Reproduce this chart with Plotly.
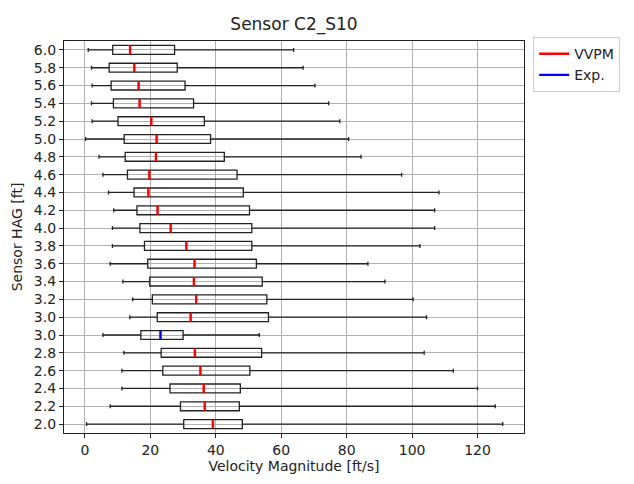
import plotly.graph_objects as go

# Rows from bottom to top
tick_labels = ["2.0", "2.2", "2.4", "2.6", "2.8", "3.0", "3.0", "3.2", "3.4", "3.6", "3.8",
               "4.0", "4.2", "4.4", "4.6", "4.8", "5.0", "5.2", "5.4", "5.6", "5.8", "6.0"]
series = ["VVPM"] * 5 + ["Exp."] + ["VVPM"] * 16

lower = [0.5, 7.7, 11.3, 11.3, 11.9, 5.5, 13.7, 14.6, 11.6, 7.7, 8.4,
         8.4, 8.8, 7.2, 5.5, 4.3, 0.2, 2.2, 2.0, 2.2, 2.0, 1.0]
q1 = [30.2, 29.2, 26.0, 23.8, 23.3, 17.1, 22.1, 20.6, 19.8, 19.2, 18.2,
      16.8, 15.9, 15.0, 13.0, 12.3, 12.0, 10.1, 8.7, 8.0, 7.4, 8.5]
median = [39.1, 36.6, 36.3, 35.3, 33.6, 23.1, 32.3, 34.0, 33.3, 33.5, 31.0,
          26.2, 22.2, 19.4, 19.7, 21.7, 21.9, 20.3, 16.7, 16.4, 15.1, 13.8]
q3 = [48.1, 47.2, 47.5, 50.4, 54.0, 30.0, 56.1, 55.6, 54.2, 52.4, 51.0,
      51.0, 50.3, 48.4, 46.5, 42.6, 38.4, 36.5, 33.2, 30.6, 28.2, 27.4]
upper = [127.7, 125.4, 120.0, 112.6, 103.7, 53.3, 104.4, 100.3, 91.7, 86.5, 102.4,
         106.9, 106.9, 108.2, 96.8, 84.4, 80.6, 77.9, 74.5, 70.3, 66.7, 63.8]

colors = {"VVPM": "#ff0000", "Exp.": "#0000ff"}
BOX_W = 0.5
FONT = "DejaVu Sans"
FS = 14

positions = list(range(1, len(tick_labels) + 1))

fig = go.Figure()
fig.add_trace(go.Box(
    y=positions, q1=q1, median=median, q3=q3, lowerfence=lower, upperfence=upper,
    orientation="h", width=BOX_W, whiskerwidth=0.45, boxpoints=False,
    line=dict(color="#222222", width=1.3), fillcolor="rgba(255,255,255,0)",
    showlegend=False, hoverinfo="skip"))

for name in ["VVPM", "Exp."]:
    xs, ys = [], []
    for p, m, s in zip(positions, median, series):
        if s == name:
            xs += [m, m, None]
            ys += [p - BOX_W / 2, p + BOX_W / 2, None]
    fig.add_trace(go.Scatter(x=xs, y=ys, mode="lines", name=name,
                             line=dict(color=colors[name], width=2.4)))

axis_common = dict(showline=True, mirror=True, linecolor="#222222", linewidth=1.2,
                   ticks="outside", ticklen=4, tickcolor="#222222",
                   showgrid=True, gridcolor="#b0b0b0", gridwidth=0.8, zeroline=False,
                   tickfont=dict(family=FONT, size=FS, color="#222222"))

fig.update_layout(
    width=634, height=484,
    margin=dict(l=64, r=110, t=41, b=51),
    paper_bgcolor="white", plot_bgcolor="white",
    font=dict(family=FONT, size=FS, color="#222222"),
    title=dict(text="Sensor C2_S10", x=0.5, xref="paper", xanchor="center",
               y=1 - 24 / 484, yref="container", yanchor="middle",
               font=dict(family=FONT, size=17, color="#222222")),
    xaxis=dict(range=[-6.4, 134.2], tickvals=[0, 20, 40, 60, 80, 100, 120],
               title=dict(text="Velocity Magnitude [ft/s]", standoff=4,
                          font=dict(family=FONT, size=FS, color="#222222")),
               **axis_common),
    yaxis=dict(range=[0.5, len(tick_labels) + 0.5], tickvals=positions, ticktext=tick_labels,
               title=dict(text="Sensor HAG [ft]", standoff=7,
                          font=dict(family=FONT, size=FS, color="#222222")),
               **axis_common),
    legend=dict(x=1.02, y=1.01, xanchor="left", yanchor="top",
                bordercolor="#cccccc", borderwidth=1, bgcolor="white",
                font=dict(family=FONT, size=FS, color="#222222"),
                tracegroupgap=0, itemwidth=30),
)

fig.write_html("out.html")
